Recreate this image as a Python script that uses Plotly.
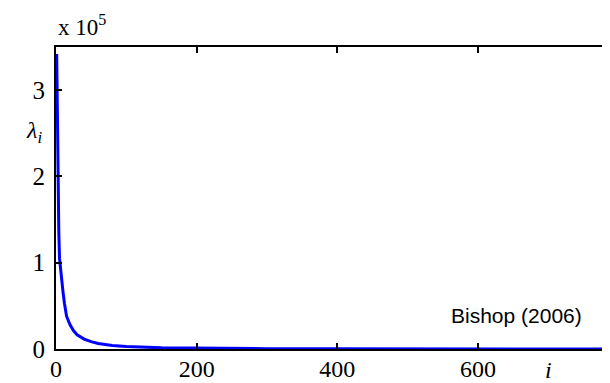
import plotly.graph_objects as go

# eigenvalue index and eigenvalue
eig_index = [1, 2, 3, 4, 5, 6, 7, 8, 10, 12, 15, 20, 25, 30, 35, 40, 50, 60,
             80, 100, 150, 200, 300, 400, 500, 600, 700, 784]
eig_value = [3.42e5, 2.55e5, 1.9e5, 1.35e5, 1.05e5, 0.96e5, 0.88e5, 0.8e5,
             0.66e5, 0.53e5, 0.38e5, 0.28e5, 0.21e5, 0.165e5, 0.135e5,
             0.115e5, 0.085e5, 0.063e5, 0.04e5, 0.028e5, 0.014e5, 0.008e5,
             0.004e5, 0.002e5, 0.001e5, 0.0005e5, 0.0002e5, 0.0]

x_ticks = [0, 200, 400, 600]
y_ticks = [0, 1e5, 2e5, 3e5]
y_ticktext = ["0", "1", "2", "3"]

serif = "Liberation Serif, Times New Roman, serif"

fig = go.Figure()
fig.add_trace(go.Scatter(x=eig_index, y=eig_value, mode="lines",
                         line=dict(color="#0000ff", width=3),
                         showlegend=False, hoverinfo="skip"))

axis_common = dict(showgrid=False, zeroline=False, showline=True,
                   linecolor="black", linewidth=2, mirror="ticks",
                   ticks="inside", ticklen=6, tickwidth=1.5, tickcolor="black",
                   automargin=False)

fig.update_xaxes(range=[0, 785], tickvals=x_ticks,
                 ticktext=[str(v) for v in x_ticks],
                 ticklabelstandoff=-3,
                 tickfont=dict(family=serif, size=24, color="black"),
                 **axis_common)
fig.update_yaxes(range=[0, 3.5e5], tickvals=y_ticks, ticktext=y_ticktext,
                 ticklabelstandoff=4,
                 tickfont=dict(family=serif, size=25, color="black"),
                 **axis_common)

fig.add_annotation(text="x 10<sup>5</sup>", xref="paper", yref="paper",
                   x=0.0, y=1.0, xanchor="left", yanchor="bottom", yshift=5,
                   showarrow=False, font=dict(family=serif, size=23, color="black"))
fig.add_annotation(text="<i>λ</i><sub><i>i</i></sub>", xref="paper", yref="paper",
                   x=0, y=0.72, xanchor="right", yanchor="middle", xshift=-12,
                   showarrow=False, font=dict(family=serif, size=24, color="black"))
fig.add_annotation(text="<i>i</i>", xref="paper", yref="paper",
                   x=0.893, y=0, xanchor="center", yanchor="top", yshift=-6,
                   showarrow=False, font=dict(family=serif, size=24, color="black"))
fig.add_annotation(text="Bishop (2006)", xref="paper", yref="paper",
                   x=0.957, y=0.11, xanchor="right", yanchor="middle",
                   showarrow=False,
                   font=dict(family="Liberation Sans, Arial, sans-serif", size=21, color="black"))

# page body has an 8px margin, so the figure is shrunk to fit the window
fig.update_layout(width=602, height=375,
                  margin=dict(l=48, r=2, t=39, b=34),
                  paper_bgcolor="white", plot_bgcolor="white")

fig.write_html("out.html")
